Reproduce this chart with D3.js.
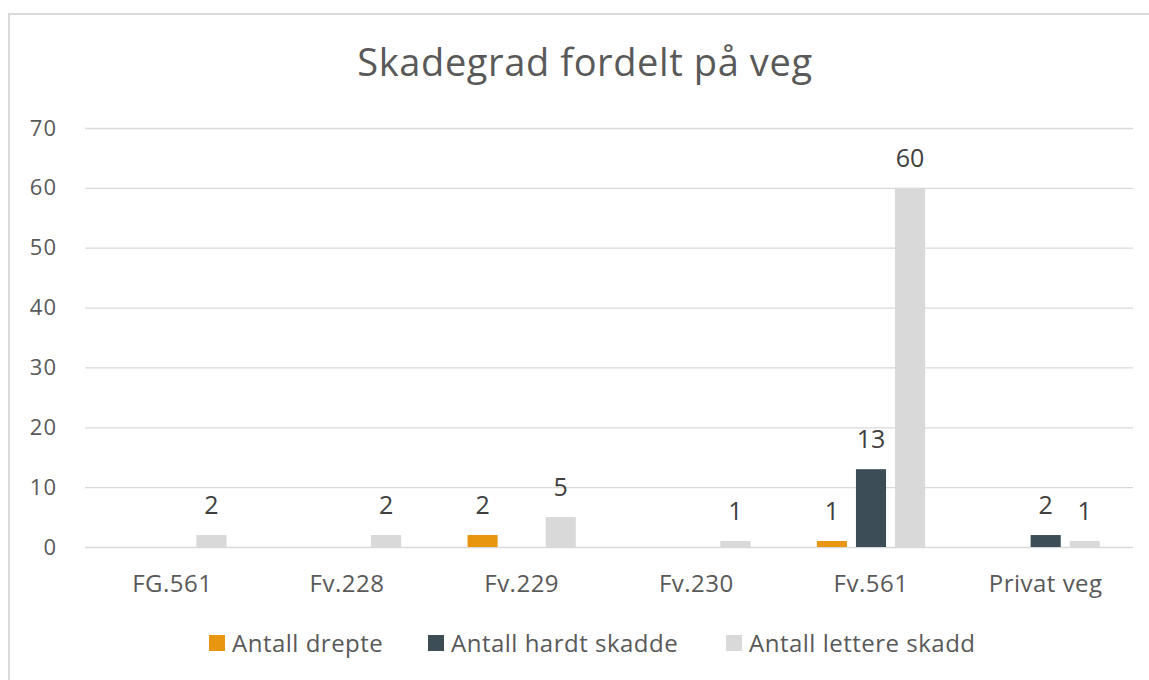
<!DOCTYPE html>
<html>
<head>
<meta charset="utf-8">
<script src="https://cdn.jsdelivr.net/npm/d3@7"></script>
<style>
  body { margin: 0; background: #fff; }
  text { font-family: "Open Sans", sans-serif; fill: #595959; }
</style>
</head>
<body>
<div class="chart"></div>
<script>
// data
const categories = ["FG.561", "Fv.228", "Fv.229", "Fv.230", "Fv.561", "Privat veg"];
const seriesNames = ["Antall drepte", "Antall hardt skadde", "Antall lettere skadd"];
const drepte  = [0, 0, 2, 0, 1, 0];
const hardt   = [0, 0, 0, 0, 13, 2];
const lettere = [2, 2, 5, 1, 60, 1];
const yTicks = [0, 10, 20, 30, 40, 50, 60, 70];
const colors = ["#E8960F", "#3C4D58", "#D9D9D9"];

const series = [drepte, hardt, lettere];
const data = categories.map((c, i) => ({
  cat: c,
  values: series.map((s, k) => ({ key: seriesNames[k], k: k, v: s[i] }))
}));

const W = 1149, H = 680;
const margin = {top: 128, right: 16, bottom: 133, left: 85};
const width = W - margin.left - margin.right,
      height = H - margin.top - margin.bottom;

const svg = d3.select(".chart").append("svg")
  .attr("width", W)
  .attr("height", H);

// chart frame
svg.append("rect")
  .attr("x", 9).attr("y", 14)
  .attr("width", W).attr("height", H)
  .attr("fill", "none")
  .attr("stroke", "#d9d9d9")
  .attr("stroke-width", 2);

svg.append("text")
  .attr("x", 585)
  .attr("y", 76)
  .attr("text-anchor", "middle")
  .style("font-size", "38px")
  .style("letter-spacing", "0.6px")
  .text("Skadegrad fordelt på veg");

const g = svg.append("g")
  .attr("transform", "translate(" + margin.left + "," + margin.top + ")");

const x0 = d3.scaleBand()
  .domain(categories)
  .range([0, width])
  .paddingInner(0.38)
  .paddingOuter(0.19);

const x1 = d3.scaleBand()
  .domain(d3.range(3))
  .range([0, x0.bandwidth()])
  .paddingInner(0.23);

const y = d3.scaleLinear()
  .domain([0, 70])
  .range([height, 0]);

// gridlines
const yAxis = d3.axisLeft(y)
  .tickValues(yTicks)
  .tickSize(-width)
  .tickPadding(28);

g.append("g")
  .attr("class", "y-axis")
  .call(yAxis)
  .call(a => a.select(".domain").remove())
  .call(a => a.selectAll("line").attr("stroke", "#d9d9d9").attr("stroke-width", 1.3))
  .call(a => a.selectAll("text")
    .style("font-size", "22px")
    .style("letter-spacing", "1px")
    .style("font-family", "'Open Sans', sans-serif")
    .attr("fill", "#595959"));

const xAxis = d3.axisBottom(x0).tickSize(0).tickPadding(28);
g.append("g")
  .attr("class", "x-axis")
  .attr("transform", "translate(0," + height + ")")
  .call(xAxis)
  .call(a => a.select(".domain").remove())
  .call(a => a.selectAll("text")
    .style("font-size", "24px")
    .style("letter-spacing", "0.5px")
    .style("font-family", "'Open Sans', sans-serif")
    .attr("fill", "#595959"));

const grp = g.selectAll(".cat")
  .data(data)
  .enter().append("g")
  .attr("class", "cat")
  .attr("transform", d => "translate(" + x0(d.cat) + ",0)");

const bars = grp.selectAll("g.bar")
  .data(d => d.values.filter(v => v.v > 0))
  .enter().append("g")
  .attr("class", "bar");

bars.append("rect")
  .attr("x", d => x1(d.k))
  .attr("width", x1.bandwidth())
  .attr("y", d => y(d.v))
  .attr("height", d => height - y(d.v))
  .attr("fill", d => colors[d.k]);

bars.append("text")
  .attr("x", d => x1(d.k) + x1.bandwidth() / 2)
  .attr("y", d => y(d.v) - 21)
  .attr("text-anchor", "middle")
  .style("font-size", "25px")
  .style("fill", "#404040")
  .text(d => d.v);

// legend
const legendX = [209, 428, 726];
const legend = svg.append("g").attr("class", "legend");
const item = legend.selectAll("g")
  .data(seriesNames)
  .enter().append("g")
  .attr("transform", (d, i) => "translate(" + legendX[i] + ",643)");
item.append("rect")
  .attr("x", 0).attr("y", -8)
  .attr("width", 16).attr("height", 16)
  .attr("fill", (d, i) => colors[i]);
item.append("text")
  .attr("x", 23)
  .attr("y", 9)
  .style("font-size", "24px")
  .style("letter-spacing", "0.5px")
  .text(d => d);
</script>
</body>
</html>
